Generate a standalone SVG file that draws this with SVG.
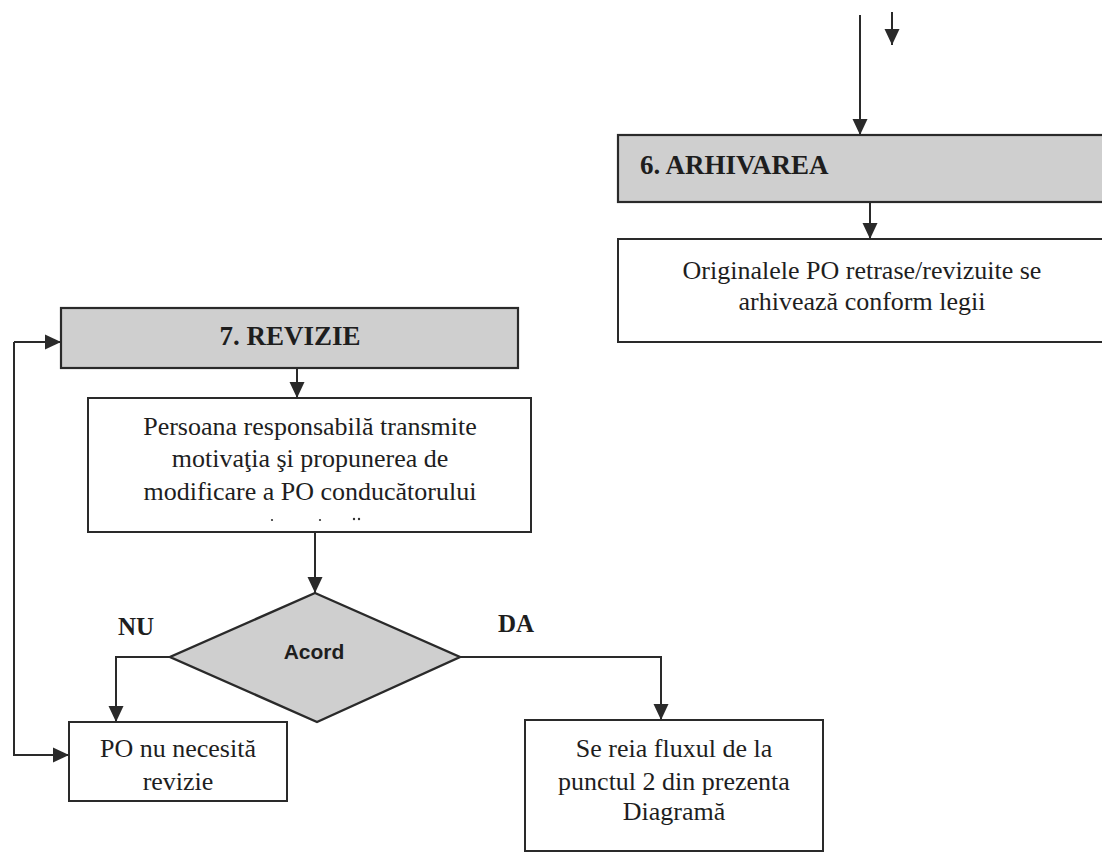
<svg xmlns="http://www.w3.org/2000/svg" width="1102" height="853" viewBox="0 0 1102 853">
<defs>
<style>
.box{fill:#ffffff;stroke:#2a2a2a;stroke-width:2}
.gray{fill:#cfcfcf;stroke:#2a2a2a;stroke-width:2.2}
.t{font-family:"Liberation Serif","Times New Roman",serif;font-size:26px;fill:#1e1e1e;text-anchor:middle}
.hb{font-family:"Liberation Serif","Times New Roman",serif;font-size:27px;font-weight:bold;fill:#1e1e1e}
.lbl{font-family:"Liberation Serif","Times New Roman",serif;font-size:25px;font-weight:bold;fill:#1e1e1e}
.dec{font-family:"Liberation Sans",Arial,sans-serif;font-size:21px;font-weight:bold;fill:#1e1e1e;text-anchor:middle}
.c{fill:none;stroke:#2a2a2a;stroke-width:2}
</style>
<marker id="ah" markerUnits="userSpaceOnUse" markerWidth="16" markerHeight="16" viewBox="0 0 16 16" refX="16" refY="8" orient="auto">
<path d="M0,0.5 L16,8 L0,15.5 Z" fill="#2a2a2a"/>
</marker>
</defs>
<rect width="1102" height="853" fill="#ffffff"/>

<g id="connectors">
<path class="c" d="M860,15 V135" marker-end="url(#ah)"/>
<path class="c" d="M892,12 V45" marker-end="url(#ah)"/>
<path class="c" d="M870,202 V239" marker-end="url(#ah)"/>
<path class="c" d="M14,342 H61" marker-end="url(#ah)"/>
<path class="c" d="M14,342 V755 H69" marker-end="url(#ah)"/>
<path class="c" d="M297,368 V398" marker-end="url(#ah)"/>
<path class="c" d="M315,532 V593" marker-end="url(#ah)"/>
<path class="c" d="M170,657 H116 V722" marker-end="url(#ah)"/>
<path class="c" d="M460,657 H661 V720" marker-end="url(#ah)"/>
</g>

<g id="n6">
<rect class="gray" x="618" y="135" width="500" height="67"/>
<text class="hb" x="640" y="174">6. ARHIVAREA</text>
</g>

<g id="n6a">
<rect class="box" x="618" y="239" width="500" height="103"/>
<text class="t" x="862" y="279">Originalele PO retrase/revizuite se</text>
<text class="t" x="862" y="310">arhivează conform legii</text>
</g>

<g id="n7">
<rect class="gray" x="61" y="308" width="457" height="60"/>
<text class="hb" x="290" y="345" text-anchor="middle">7. REVIZIE</text>
</g>

<g id="n7a">
<rect class="box" x="88" y="398" width="443" height="134"/>
<text class="t" x="310" y="435">Persoana responsabilă transmite</text>
<text class="t" x="310" y="467">motivaţia şi propunerea de</text>
<text class="t" x="310" y="500">modificare a PO conducătorului</text>
<circle cx="272" cy="520" r="1.1" fill="#333"/>
<circle cx="320" cy="520" r="1.1" fill="#333"/>
<circle cx="354" cy="519" r="1.2" fill="#333"/>
<circle cx="359" cy="519" r="1.2" fill="#333"/>
</g>

<g id="acord">
<polygon class="gray" points="315,593 460,657 317,722 170,657" style="stroke-width:2.4"/>
<text class="dec" x="314" y="659">Acord</text>
</g>

<g id="labels">
<text class="lbl" x="118" y="635">NU</text>
<text class="lbl" x="498" y="632">DA</text>
</g>

<g id="nu">
<rect class="box" x="69" y="722" width="218" height="79"/>
<text class="t" x="178" y="757">PO nu necesită</text>
<text class="t" x="178" y="790">revizie</text>
</g>

<g id="da">
<rect class="box" x="525" y="720" width="298" height="131"/>
<text class="t" x="674" y="757">Se reia fluxul de la</text>
<text class="t" x="674" y="790">punctul 2 din prezenta</text>
<text class="t" x="674" y="820">Diagramă</text>
</g>
</svg>
